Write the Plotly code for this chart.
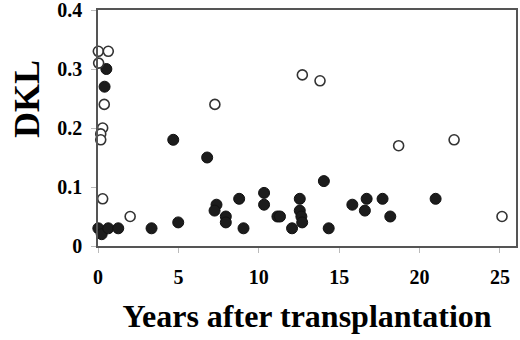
import plotly.graph_objects as go

# Filled circles
filled_x = [0.02, 0.23, 0.64, 1.26, 3.33, 0.52, 0.41, 4.68, 6.79, 4.99, 7.37, 7.25,
            7.95, 7.95, 8.78, 9.05, 10.33, 10.33, 11.16, 11.32, 12.07, 12.55, 12.55,
            12.65, 12.70, 14.05, 14.35, 15.82, 16.60, 16.71, 17.70, 18.18, 21.00]
filled_y = [0.03, 0.02, 0.03, 0.03, 0.03, 0.30, 0.27, 0.18, 0.15, 0.04, 0.07, 0.06,
            0.05, 0.04, 0.08, 0.03, 0.09, 0.07, 0.05, 0.05, 0.03, 0.08, 0.06,
            0.05, 0.04, 0.11, 0.03, 0.07, 0.06, 0.08, 0.08, 0.05, 0.08]

# Open circles
open_x = [0.02, 0.64, 0.04, 0.39, 7.27, 0.29, 0.17, 0.17, 0.29, 2.00, 12.71, 13.81,
          18.70, 22.15, 25.13]
open_y = [0.33, 0.33, 0.31, 0.24, 0.24, 0.20, 0.19, 0.18, 0.08, 0.05, 0.29, 0.28,
          0.17, 0.18, 0.05]

x_ticks = [0, 5, 10, 15, 20, 25]
y_ticks = [0, 0.1, 0.2, 0.3, 0.4]
y_tick_labels = ["0", "0.1", "0.2", "0.3", "0.4"]

font_family = "Liberation Serif"

fig = go.Figure()
fig.add_trace(go.Scatter(
    x=filled_x, y=filled_y, mode="markers",
    marker=dict(size=11, color="#1c1c1c", line=dict(color="#111111", width=1)),
    showlegend=False, cliponaxis=False,
))
fig.add_trace(go.Scatter(
    x=open_x, y=open_y, mode="markers",
    marker=dict(size=10, color="white", line=dict(color="#333333", width=1.6)),
    showlegend=False, cliponaxis=False,
))

fig.update_layout(
    width=520, height=340,
    margin=dict(l=98, r=4, t=10, b=94, autoexpand=False),
    paper_bgcolor="white", plot_bgcolor="white",
    font=dict(family=font_family, color="black"),
)
fig.update_xaxes(
    range=[0, 26], tickvals=x_ticks, ticktext=[str(v) for v in x_ticks],
    showgrid=False, zeroline=False, automargin=False,
    showline=True, linecolor="#555555", linewidth=1.5, mirror=True,
    ticks="outside", ticklen=5, tickcolor="#bbbbbb", tickwidth=1,
    ticklabelstandoff=7, ticklabeloverflow="allow",
    tickfont=dict(family=font_family, size=20, color="black", weight="bold"),
    title=dict(text="Years after transplantation",
               font=dict(family=font_family, size=32, color="black", weight="bold"),
               standoff=18),
)
fig.update_yaxes(
    range=[0, 0.4], tickvals=y_ticks, ticktext=y_tick_labels,
    showgrid=False, zeroline=False, automargin=False,
    showline=True, linecolor="#555555", linewidth=1.5, mirror=True,
    ticks="outside", ticklen=5, tickcolor="#bbbbbb", tickwidth=1,
    ticklabelstandoff=5, ticklabeloverflow="allow",
    tickfont=dict(family=font_family, size=20, color="black", weight="bold"),
)
fig.add_annotation(
    text="DKL", textangle=-90, showarrow=False,
    xref="paper", yref="paper", x=-0.17, y=0.623,
    xanchor="center", yanchor="middle",
    font=dict(family=font_family, size=36, color="black", weight="bold"),
)

fig.write_html("out.html", config={"displayModeBar": False},
               post_script="document.body.style.margin='0';")
